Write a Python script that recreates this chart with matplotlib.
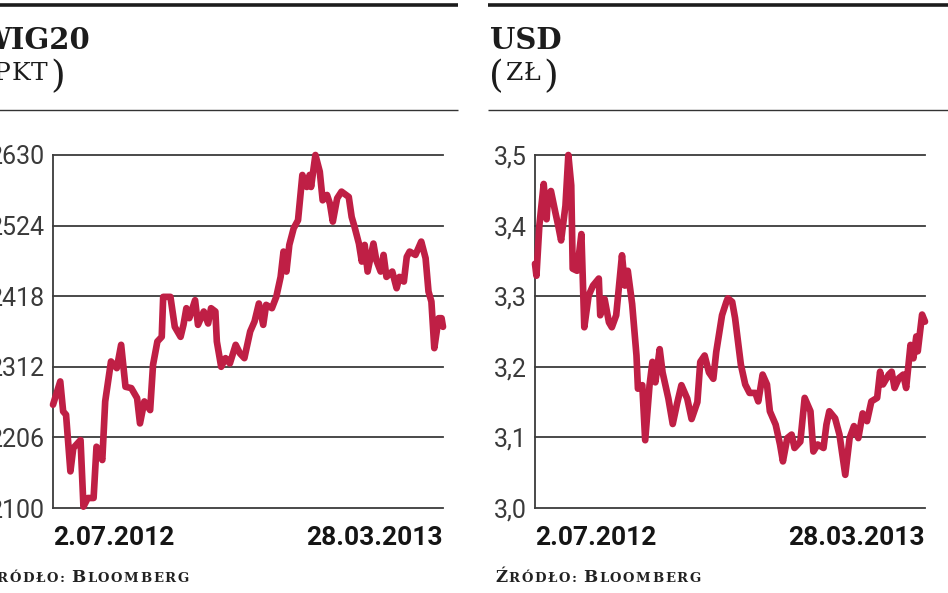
import matplotlib
matplotlib.use("Agg")
import matplotlib.pyplot as plt
from matplotlib.lines import Line2D
import pandas as pd

# ---------------------------------------------------------------------------
# Data
# ---------------------------------------------------------------------------
START = pd.Timestamp("2012-07-02")
END = pd.Timestamp("2013-03-28")
date_labels = ["2.07.2012", "28.03.2013"]

# WIG20 (pkt), days counted from 2.07.2012
wig_days = [0, 5, 7, 9, 12, 14, 19, 21, 24, 28, 30, 34, 36, 40, 44, 47, 50, 54,
            58, 60, 63, 67, 69, 72, 75, 76, 81, 84, 88, 90, 92, 94, 98, 100, 104,
            107, 109, 112, 113, 116, 119, 122, 126, 129, 132, 136, 139, 142, 145,
            147, 151, 154, 157, 159, 161, 163, 166, 169, 172, 175, 177, 178, 181,
            184, 186, 189, 191, 193, 196, 199, 204, 206, 208, 211, 213, 215, 217,
            221, 223, 226, 228, 230, 234, 237, 239, 242, 244, 246, 250, 252, 254,
            257, 259, 261, 263, 266, 268, 269]
wig_values = [2255, 2290, 2245, 2240, 2155, 2190, 2202, 2102, 2115, 2115, 2192,
              2172, 2260, 2320, 2310, 2345, 2282, 2280, 2265, 2227, 2260, 2247,
              2315, 2350, 2357, 2417, 2417, 2372, 2357, 2375, 2400, 2385, 2412,
              2375, 2395, 2377, 2400, 2395, 2350, 2312, 2325, 2317, 2345, 2332,
              2325, 2365, 2380, 2407, 2375, 2405, 2400, 2417, 2447, 2485, 2455,
              2495, 2520, 2532, 2600, 2582, 2600, 2582, 2630, 2605, 2562, 2570,
              2557, 2530, 2565, 2575, 2567, 2537, 2522, 2497, 2470, 2495, 2455,
              2497, 2472, 2455, 2480, 2447, 2455, 2430, 2447, 2440, 2477, 2485,
              2480, 2490, 2500, 2475, 2425, 2410, 2340, 2385, 2385, 2372]
wig_ticks = [2100, 2206, 2312, 2418, 2524, 2630]
wig_tick_labels = ["2100", "2206", "2312", "2418", "2524", "2630"]

# USD (zł)
usd_days = [0, 1, 3, 6, 8, 9, 11, 14, 16, 18, 21, 23, 25, 26, 29, 32, 34, 37, 40,
            44, 45, 48, 51, 53, 56, 60, 62, 64, 67, 70, 71, 74, 76, 79, 81, 83, 86,
            88, 92, 95, 98, 101, 105, 108, 112, 114, 117, 120, 123, 125, 129, 132,
            133, 136, 138, 140, 142, 145, 148, 152, 154, 157, 160, 162, 166, 169,
            171, 174, 177, 179, 183, 186, 190, 192, 195, 199, 201, 203, 207, 210,
            214, 217, 220, 223, 226, 229, 232, 236, 238, 240, 244, 246, 248, 251,
            254, 256, 259, 261, 263, 264, 267, 269]
usd_values = [3.346, 3.329, 3.400, 3.459, 3.409, 3.442, 3.449, 3.419, 3.400, 3.379,
              3.428, 3.500, 3.457, 3.339, 3.336, 3.388, 3.256, 3.301, 3.315, 3.325,
              3.273, 3.296, 3.263, 3.256, 3.273, 3.358, 3.315, 3.336, 3.289, 3.216,
              3.169, 3.174, 3.096, 3.174, 3.207, 3.178, 3.225, 3.192, 3.155, 3.119,
              3.148, 3.174, 3.155, 3.126, 3.150, 3.207, 3.216, 3.192, 3.183, 3.221,
              3.273, 3.292, 3.297, 3.292, 3.269, 3.236, 3.203, 3.175, 3.163, 3.163,
              3.151, 3.189, 3.175, 3.137, 3.118, 3.090, 3.066, 3.099, 3.104, 3.085,
              3.094, 3.156, 3.137, 3.080, 3.090, 3.085, 3.118, 3.137, 3.127, 3.104,
              3.047, 3.099, 3.116, 3.099, 3.134, 3.123, 3.151, 3.156, 3.193, 3.175,
              3.189, 3.193, 3.170, 3.184, 3.189, 3.170, 3.231, 3.212, 3.243, 3.222,
              3.274, 3.264]
usd_ticks = [3.0, 3.1, 3.2, 3.3, 3.4, 3.5]
usd_tick_labels = ["3,0", "3,1", "3,2", "3,3", "3,4", "3,5"]

# ---------------------------------------------------------------------------
# Style
# ---------------------------------------------------------------------------
W, H = 948, 593
RED = '#BF1F45'
GRID = '#3c3c3c'
INK = '#1c1c1c'
SERIF = 'DejaVu Serif'
SANS = ['Roboto', 'DejaVu Sans']

fig = plt.figure(figsize=(W / 100, H / 100), dpi=100)
fig.patch.set_facecolor('white')
renderer = fig.canvas.get_renderer()


def fx(x):
    return x / W


def fy(y):
    return 1 - y / H


def hrule(x0, x1, y, lw, color=INK):
    fig.add_artist(Line2D([fx(x0), fx(x1)], [fy(y), fy(y)], transform=fig.transFigure,
                          color=color, lw=lw, solid_capstyle='butt'))


def caps_text(x, y, parts, tracking=0.0, **kw):
    """Fake small caps: pieces (text, size, dy, gap_after) drawn on one baseline,
    each character placed separately so letter spacing can be added."""
    for s, size, dy, gap in parts:
        for ch in s:
            t = fig.text(fx(x), fy(y + dy), ch, fontsize=size, ha='left',
                         va='baseline', **kw)
            x = t.get_window_extent(renderer).x1 + tracking
        x += gap


def panel(left_px, text_x, rule_x0, rule_x1, title, unit, days, values,
          ticks, tick_labels, ylim):
    # header
    hrule(rule_x0, rule_x1, 5, 2.6)
    hrule(rule_x0, rule_x1, 110, 1.0, color='#333333')
    fig.text(fx(text_x), fy(49), title, fontsize=21, fontweight='bold',
             family=SERIF, color=INK, ha='left', va='baseline')
    caps_text(text_x - 1, 80, [("(", 27, 7, 1), (unit, 18, 0, 2), (")", 27, 7, 0)],
              tracking=1.0, family=SERIF, color=INK)
    caps_text(text_x + 5, 582, [("Ź", 12, 0, 0), ("RÓDŁO:", 9.5, 0, 5),
                                ("B", 12, 0, 0), ("LOOMBERG", 9.5, 0, 0)],
              tracking=1.6, family=SERIF, color='#222222', fontweight='bold')

    ax = fig.add_axes([fx(left_px), fy(508), 390 / W, 353 / H])
    dates = START + pd.to_timedelta(days, unit='D')
    ax.plot(dates, values, color=RED, lw=4.8, solid_joinstyle='round',
            solid_capstyle='round', clip_on=False, zorder=3)

    ax.set_xlim(START, END)
    ax.set_ylim(*ylim)
    ax.set_yticks(ticks)
    ax.set_yticklabels(tick_labels, family=SANS, fontsize=18, fontweight='normal',
                       color='#3a3a3a')
    ax.set_xticks([START, END])
    ax.set_xticklabels(date_labels, family=SANS, fontsize=19, fontweight='bold',
                       color='#151515')
    for lab, ha in zip(ax.get_xticklabels(), ['left', 'right']):
        lab.set_horizontalalignment(ha)
    ax.tick_params(axis='y', length=0, pad=6)
    ax.tick_params(axis='x', length=0, pad=13)

    ax.grid(axis='y', color=GRID, lw=1.3)
    ax.grid(axis='x', visible=False)
    for gl in ax.get_ygridlines():
        gl.set_clip_on(False)
    ax.set_axisbelow(True)
    for side in ['top', 'right', 'bottom']:
        ax.spines[side].set_visible(False)
    ax.spines['left'].set_color(GRID)
    ax.spines['left'].set_linewidth(1.3)
    ax.set_facecolor('none')
    return ax


panel(53, -22, -20, 458, "WIG20", "PKT", wig_days, wig_values,
      wig_ticks, wig_tick_labels, (2100, 2630))
panel(535, 490, 488, 960, "USD", "ZŁ", usd_days, usd_values,
      usd_ticks, usd_tick_labels, (3.0, 3.5))

fig.savefig("out.png", dpi=100, facecolor='white')
